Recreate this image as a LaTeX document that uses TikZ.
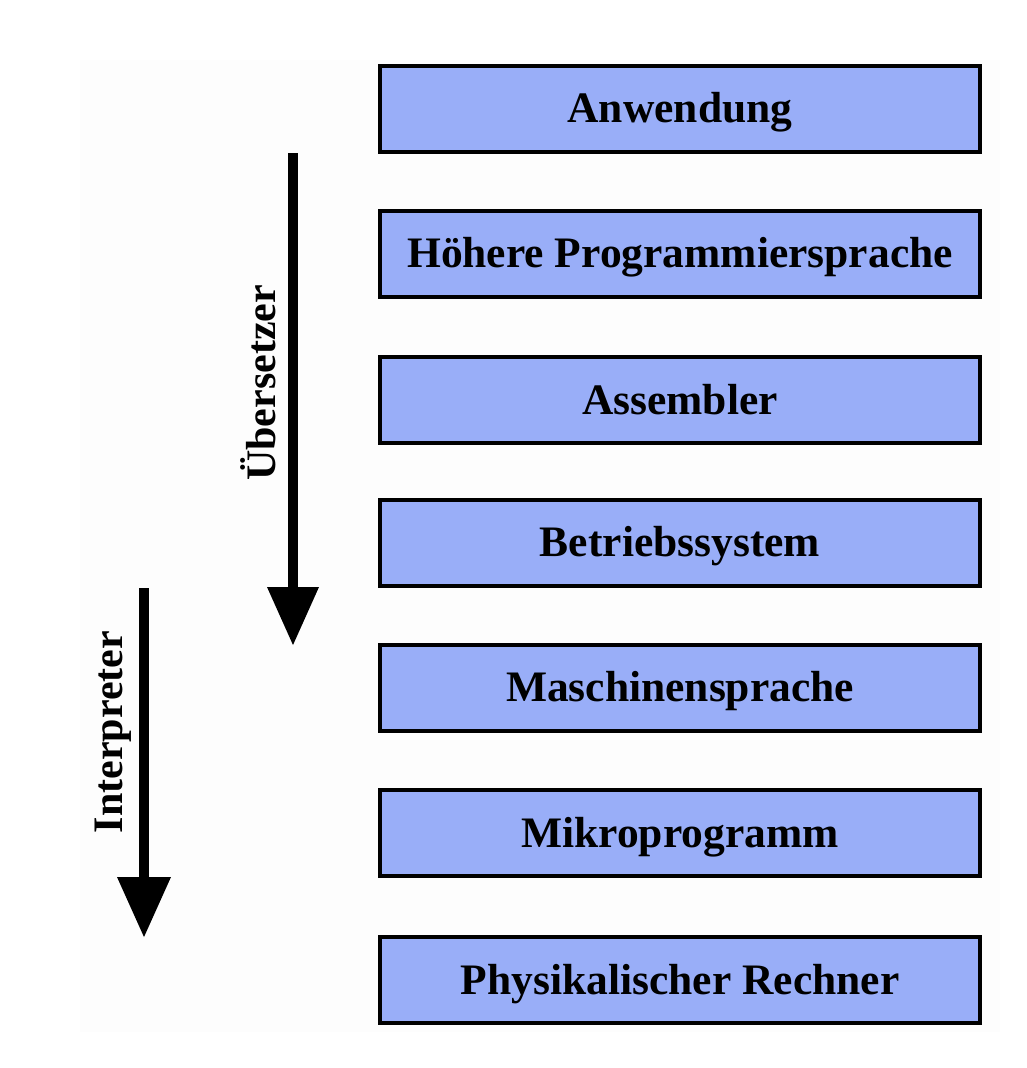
\documentclass[tikz,border=0pt]{standalone}
\usepackage{fontspec}
\setmainfont{Liberation Serif}
\definecolor{boxfill}{RGB}{153,174,248}
\definecolor{bgpanel}{RGB}{253,253,253}
\begin{document}
\begin{tikzpicture}[x=1pt,y=-1pt,
  layer/.style={draw=black,line width=4pt,fill=boxfill,minimum width=600pt,minimum height=86pt,
    inner sep=0pt,font=\fontsize{43.5}{47}\selectfont\bfseries,anchor=center,text depth=2pt},
  label/.style={font=\fontsize{42}{46}\selectfont\bfseries,rotate=90,inner sep=0pt},
  shaft/.style={line width=10pt},
]
\useasboundingbox (0,0) rectangle (1027,1068);
\fill[bgpanel] (80,60) rectangle (1000,1032);

\node[layer] (n1) at (680,108.5) {Anwendung};
\node[layer] (n2) at (680,253.5) {Höhere Programmiersprache};
\node[layer] (n3) at (680,400) {Assembler};
\node[layer] (n4) at (680,542.5) {Betriebssystem};
\node[layer] (n5) at (680,687.5) {Maschinensprache};
\node[layer] (n6) at (680,833) {Mikroprogramm};
\node[layer] (n7) at (680,980) {Physikalischer Rechner};

% Übersetzer arrow
\coordinate (uS) at (293,153);
\coordinate (uB) at (293,590);
\coordinate (uT) at (293,645);
\draw[shaft] (uS) -- (uB);
\fill (uT) -- ([xshift=-26pt,yshift=58pt]uT) -- ([xshift=26pt,yshift=58pt]uT) -- cycle;
\node[label] (ul) at (258,383) {Übersetzer};

% Interpreter arrow
\coordinate (iS) at (144,588);
\coordinate (iB) at (144,880);
\coordinate (iT) at (144,937);
\draw[shaft] (iS) -- (iB);
\fill (iT) -- ([xshift=-27pt,yshift=60pt]iT) -- ([xshift=27pt,yshift=60pt]iT) -- cycle;
\node[label] (il) at (113,732) {Interpreter};
\end{tikzpicture}
\end{document}
